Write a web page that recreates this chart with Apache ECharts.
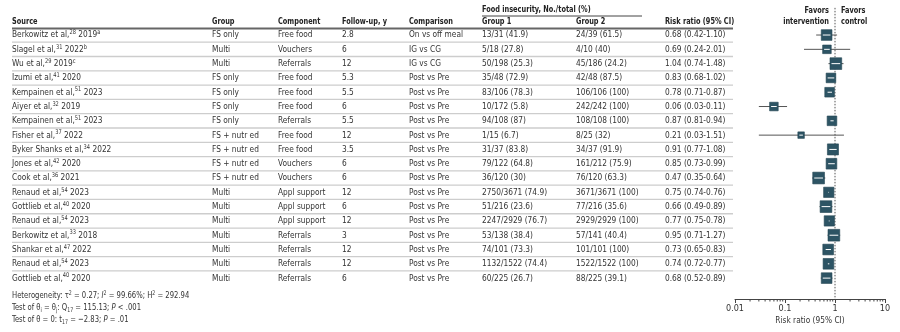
<!DOCTYPE html>
<html><head><meta charset="utf-8">
<script src="https://cdn.jsdelivr.net/npm/echarts@6/dist/echarts.min.js"></script>
<style>html,body{margin:0;padding:0;background:#fff}#c{width:900px;height:332px}</style>
</head><body><div id="c"></div>
<script>
const authors = ['Berkowitz et al,','Slagel et al,','Wu et al,','Izumi et al,','Kempainen et al,','Aiyer et al,','Kempainen et al,','Fisher et al,','Byker Shanks et al,','Jones et al,','Cook et al,','Renaud et al,','Gottlieb et al,','Renaud et al,','Berkowitz et al,','Shankar et al,','Renaud et al,','Gottlieb et al,'];
const refs = ['28','31','29','41','51','32','51','37','34','42','36','54','40','54','33','47','54','40'];
const years = ['2019','2022','2019','2020','2023','2019','2023','2022','2022','2020','2021','2023','2020','2023','2018','2022','2023','2020'];
const notes = ['a','b','c','','','','','','','','','','','','','','',''];
const groups = ['FS only','Multi','Multi','FS only','FS only','FS only','FS only','FS + nutr ed','FS + nutr ed','FS + nutr ed','FS + nutr ed','Multi','Multi','Multi','Multi','Multi','Multi','Multi'];
const components = ['Free food','Vouchers','Referrals','Free food','Free food','Free food','Referrals','Free food','Free food','Vouchers','Vouchers','Appl support','Appl support','Appl support','Referrals','Referrals','Referrals','Referrals'];
const followUp = ['2.8','6','12','5.3','5.5','6','5.5','12','3.5','6','6','12','6','12','3','12','12','6'];
const comparisons = ['On vs off meal','IG vs CG','IG vs CG','Post vs Pre','Post vs Pre','Post vs Pre','Post vs Pre','Post vs Pre','Post vs Pre','Post vs Pre','Post vs Pre','Post vs Pre','Post vs Pre','Post vs Pre','Post vs Pre','Post vs Pre','Post vs Pre','Post vs Pre'];
const group1 = ['13/31 (41.9)','5/18 (27.8)','50/198 (25.3)','35/48 (72.9)','83/106 (78.3)','10/172 (5.8)','94/108 (87)','1/15 (6.7)','31/37 (83.8)','79/122 (64.8)','36/120 (30)','2750/3671 (74.9)','51/216 (23.6)','2247/2929 (76.7)','53/138 (38.4)','74/101 (73.3)','1132/1522 (74.4)','60/225 (26.7)'];
const group2 = ['24/39 (61.5)','4/10 (40)','45/186 (24.2)','42/48 (87.5)','106/106 (100)','242/242 (100)','108/108 (100)','8/25 (32)','34/37 (91.9)','161/212 (75.9)','76/120 (63.3)','3671/3671 (100)','77/216 (35.6)','2929/2929 (100)','57/141 (40.4)','101/101 (100)','1522/1522 (100)','88/225 (39.1)'];
const rr     = [0.68,0.69,1.04,0.83,0.78,0.06,0.87,0.21,0.91,0.85,0.47,0.75,0.66,0.77,0.95,0.73,0.74,0.68];
const rrLow  = [0.42,0.24,0.74,0.68,0.71,0.03,0.81,0.03,0.77,0.73,0.35,0.74,0.49,0.75,0.71,0.65,0.72,0.52];
const rrHigh = [1.10,2.01,1.48,1.02,0.87,0.11,0.94,1.51,1.08,0.99,0.64,0.76,0.89,0.78,1.27,0.83,0.77,0.89];
const weights = [5.4,3.5,6.5,4.4,4.4,3.5,4.4,2.0,5.8,5.4,6.5,5.0,6.5,5.0,6.5,5.4,5.4,5.4];
const xTicks = [0.01,0.1,1,10];
const headers = ['Source','Group','Component','Follow-up, y','Comparison','Group 1','Group 2','Risk ratio (95% CI)'];

const FONT = '"DejaVu Sans Condensed","Liberation Sans Narrow",sans-serif';
const TXT = '#333';
const HDR = '#222';
const colX = [12,212,278,342,409,482,576,665];
const tableRight = 733;
const fs = 9.5;
const SX = 0.87;   // horizontal condensation of body text
const SXB = 0.77;  // horizontal condensation of bold text

const chart = echarts.init(document.getElementById('c'), null, {renderer:'canvas'});

function txt(x, y, text, extra, sx) {
  return {type:'text', x:x, y:y, scaleX:(sx===undefined?SX:sx),
    style:Object.assign({x:0, y:0, text:text, fill:TXT, fontSize:fs, fontFamily:FONT, verticalAlign:'middle', align:'left'}, extra||{})};
}
function bold(x, y, text, align) {
  return txt(x, y, text, {fontWeight:'bold', fill:HDR, align:align||'left'}, SXB);
}

const tableData = rr.map((v,i)=>[1,i]);
const forestData = rr.map((v,i)=>[v, rrLow[i], rrHigh[i], i, weights[i]]);

const minorVals = [];
for (let d = 0; d < xTicks.length - 1; d++) for (let k = 2; k <= 9; k++) minorVals.push(+(xTicks[d]*k).toPrecision(3));

const richN = {fontSize:fs,fontFamily:FONT,fill:TXT,lineHeight:12};
const richI = {fontSize:fs,fontFamily:FONT,fill:TXT,fontStyle:'italic',lineHeight:12};
const richSup = {fontSize:6.5,fontFamily:FONT,fill:TXT,verticalAlign:'top',lineHeight:12};
const richSub = {fontSize:6.5,fontFamily:FONT,fill:TXT,verticalAlign:'bottom',lineHeight:12};

const option = {
  animation:false,
  grid:{left:735, right:15, top:5, bottom:33},
  xAxis:{type:'log', logBase:10, min:0.01, max:10,
    axisLine:{onZero:false, lineStyle:{color:'#444', width:1}},
    axisTick:{length:4, lineStyle:{color:'#444'}},
    axisLabel:{color:TXT, fontSize:9, fontFamily:FONT, margin:5, formatter:v=>{const t=xTicks.find(a=>Math.abs(a-v)/a<1e-6); return t===undefined?'':String(t);}},
    splitLine:{show:false}
  },
  yAxis:{type:'value', inverse:true, min:-2.1, max:18.46, show:false},
  graphic:[
    {type:'group', silent:true, children:[
      ...headers.map((h,k)=>bold(colX[k], 22, h)),
      bold(482, 9.5, 'Food insecurity, No./total (%)'),
      {type:'line', shape:{x1:482,y1:16,x2:642,y2:16}, style:{stroke:'#444', lineWidth:1}},
      {type:'line', shape:{x1:12,y1:28.5,x2:tableRight,y2:28.5}, style:{stroke:'#666', lineWidth:2.2}},
      bold(829, 11, 'Favors', 'right'),
      bold(829, 22, 'intervention', 'right'),
      bold(841, 11, 'Favors'),
      bold(841, 22, 'control'),
      txt(810, 321, 'Risk ratio (95% CI)', {align:'center'}),
      txt(12, 296, '', {text:'{n|Heterogeneity: τ}{s|2}{n| = 0.27; }{i|I}{s|2}{n| = 99.66%; H}{s|2}{n| = 292.94}', rich:{n:richN,i:richI,s:richSup}}, 0.8),
      txt(12, 308, '', {text:'{n|Test of θ}{b|i}{n| = θ}{b|j}{n|: Q}{b|17}{n| = 115.13; }{i|P}{n| < .001}', rich:{n:richN,i:richI,b:richSub}}, 0.8),
      txt(12, 319.5, '', {text:'{n|Test of θ = 0: t}{b|17}{n| = −2.83; }{i|P}{n| = .01}', rich:{n:richN,i:richI,b:richSub}}, 0.8)
    ]}
  ],
  series:[
    { // table rows
      type:'custom', clip:false, silent:true, data:tableData, encode:{x:0,y:1},
      renderItem:(params, api)=>{
        const i = params.dataIndex;
        const y = api.coord([1, i])[1];
        const src = '{n|' + authors[i] + '}{s|' + refs[i] + '}{n| ' + years[i] + '}' + (notes[i] ? '{s|' + notes[i] + '}' : '');
        const rrText = rr[i].toFixed(2) + ' (' + rrLow[i].toFixed(2) + '-' + rrHigh[i].toFixed(2) + ')';
        const children = [
          txt(colX[0], y, '', {text:src, rich:{n:richN, s:richSup}}),
          txt(colX[1], y, groups[i]),
          txt(colX[2], y, components[i]),
          txt(colX[3], y, followUp[i]),
          txt(colX[4], y, comparisons[i]),
          txt(colX[5], y, group1[i]),
          txt(colX[6], y, group2[i]),
          txt(colX[7], y, rrText)
        ];
        if (i < rr.length - 1) {
          const ny = api.coord([1, i + 0.5])[1];
          children.push({type:'line', shape:{x1:12,y1:ny,x2:tableRight,y2:ny}, style:{stroke:'#cdcdcd', lineWidth:1.3}});
        }
        return {type:'group', children:children};
      }
    },
    { // minor ticks
      type:'custom', clip:false, silent:true, data:minorVals.map(v=>[v, 18.46]), encode:{x:0,y:1},
      renderItem:(params, api)=>{
        const p = api.coord([api.value(0), api.value(1)]);
        return {type:'line', shape:{x1:p[0],y1:p[1],x2:p[0],y2:p[1]+2.5}, style:{stroke:'#444', lineWidth:1}};
      }
    },
    { // null reference line at RR = 1
      type:'line', silent:true, symbol:'none', data:[[1,-1.9],[1,18.46]],
      lineStyle:{color:'#555', width:1, type:[1.5,1.5]}, z:1
    },
    { // forest plot
      type:'custom', clip:false, silent:true, data:forestData, encode:{x:[0,1,2], y:3}, z:3,
      renderItem:(params, api)=>{
        const c = api.coord([api.value(0), api.value(3)]);
        const lo = api.coord([api.value(1), api.value(3)]);
        const hi = api.coord([api.value(2), api.value(3)]);
        const s = 4.6*Math.sqrt(api.value(4));
        const l = c[0]-s/2, r = c[0]+s/2;
        const children = [
          {type:'line', shape:{x1:lo[0],y1:c[1],x2:hi[0],y2:c[1]}, style:{stroke:'#555', lineWidth:1}},
          {type:'rect', shape:{x:l, y:c[1]-s/2, width:s, height:s}, style:{fill:'#2d5464', stroke:'#244553', lineWidth:0.6}}
        ];
        const wl = Math.max(lo[0], l+1.5), wr = Math.min(hi[0], r-1.5);
        if (wr > wl) children.push({type:'line', shape:{x1:wl,y1:c[1],x2:wr,y2:c[1]}, style:{stroke:'#fff', lineWidth:1}});
        return {type:'group', children:children};
      }
    }
  ]
};
chart.setOption(option);
</script></body></html>
